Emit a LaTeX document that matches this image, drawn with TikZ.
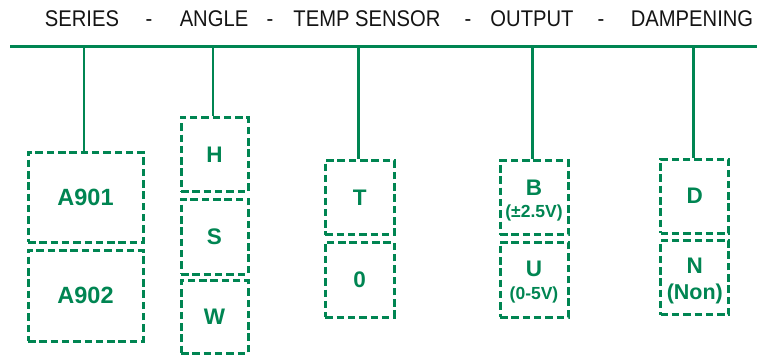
\documentclass[tikz,border=0pt]{standalone}
\usepackage{fontspec}
\setmainfont{Liberation Sans}
\newfontfamily\headfont[FakeStretch=0.89]{Liberation Sans}
\definecolor{pgreen}{RGB}{0,133,82}
\definecolor{headgray}{RGB}{20,20,20}
\begin{document}
\begin{tikzpicture}[x=1pt,y=-1pt,
  head/.style={anchor=base,inner sep=0pt,font=\headfont\fontsize{22.7}{24}\selectfont,text=headgray},
  optbox/.style={draw=pgreen,line width=3pt,dash pattern=on 7.5pt off 3.8pt,rectangle,inner sep=0pt,minimum width=68pt,minimum height=74.5pt,text=pgreen,font=\bfseries\fontsize{22.5}{24}\selectfont},
  letter/.style={inner sep=0pt,text=pgreen,font=\bfseries\fontsize{22.5}{24}\selectfont},
  subtext/.style={inner sep=0pt,text=pgreen,font=\bfseries\fontsize{17.5}{19}\selectfont},
  bigsub/.style={inner sep=0pt,text=pgreen,font=\bfseries\fontsize{21.5}{23}\selectfont},
  conn/.style={draw=pgreen,line width=2.8pt},
  bar/.style={draw=pgreen,line width=3pt}]
\useasboundingbox (0,0) rectangle (757,356);
% header
\node[head] (hseries) at (82,26) {SERIES};
\node[head] (hd1) at (149,26) {-};
\node[head] (hangle) at (214,26) {ANGLE};
\node[head] (hd2) at (270,26) {-};
\node[head] (htemp) at (367,26) {TEMP SENSOR};
\node[head] (hd3) at (468,26) {-};
\node[head] (houtput) at (532,26) {OUTPUT};
\node[head] (hd4) at (601,26) {-};
\node[head] (hdamp) at (692,26) {DAMPENING};
% horizontal bar
\coordinate (barL) at (10,46);
\coordinate (barR) at (757,46);
\draw[bar] (barL) -- (barR);
% series
\node[optbox,minimum width=115pt,minimum height=90pt,font=\bfseries\fontsize{23.5}{25}\selectfont] (a901) at (85.5,197) {A901};
\node[optbox,minimum width=115pt,minimum height=91pt,font=\bfseries\fontsize{23.5}{25}\selectfont] (a902) at (85.5,295.5) {A902};
% angle
\node[optbox,minimum width=67pt] (h) at (214.5,154.3) {H};
\node[optbox,minimum width=67pt,minimum height=75pt] (s) at (214.5,236.5) {S};
\node[optbox,minimum width=67pt,minimum height=72.3pt] (w) at (214.5,316.9) {W};
% temp sensor
\node[optbox,minimum width=68.7pt,minimum height=74.3pt] (t) at (359.7,197.8) {T};
\node[optbox,minimum width=68.7pt,minimum height=75pt] (zero) at (359.7,279.5) {0};
% output
\node[optbox,minimum height=74.3pt] (b) at (534,197.8) {};
\node[optbox,minimum height=75pt] (u) at (534,279.5) {};
\node[letter] (blet) at (534,188) {B};
\node[subtext] (bsub) at (534,212.7) {(±2.5V)};
\node[letter] (ulet) at (534,269) {U};
\node[subtext] (usub) at (534,295) {(0-5V)};
% dampening
\node[optbox,minimum width=68.3pt,minimum height=74pt] (d) at (694.8,196) {D};
\node[optbox,minimum width=68.3pt,minimum height=74.3pt] (n) at (694.8,277.8) {};
\node[letter] (nlet) at (694.8,266) {N};
\node[bigsub] (nsub) at (694.8,294) {(Non)};
% connectors
\draw[conn] ([xshift=-1.5pt]a901.north) -- ([xshift=-1.5pt]a901.north |- barL);
\draw[conn] ([xshift=-1.5pt]h.north) -- ([xshift=-1.5pt]h.north |- barL);
\draw[conn] ([xshift=-1.5pt]t.north) -- ([xshift=-1.5pt]t.north |- barL);
\draw[conn] ([xshift=-1.5pt]b.north) -- ([xshift=-1.5pt]b.north |- barL);
\draw[conn] ([xshift=-1.5pt]d.north) -- ([xshift=-1.5pt]d.north |- barL);
\end{tikzpicture}
\end{document}
